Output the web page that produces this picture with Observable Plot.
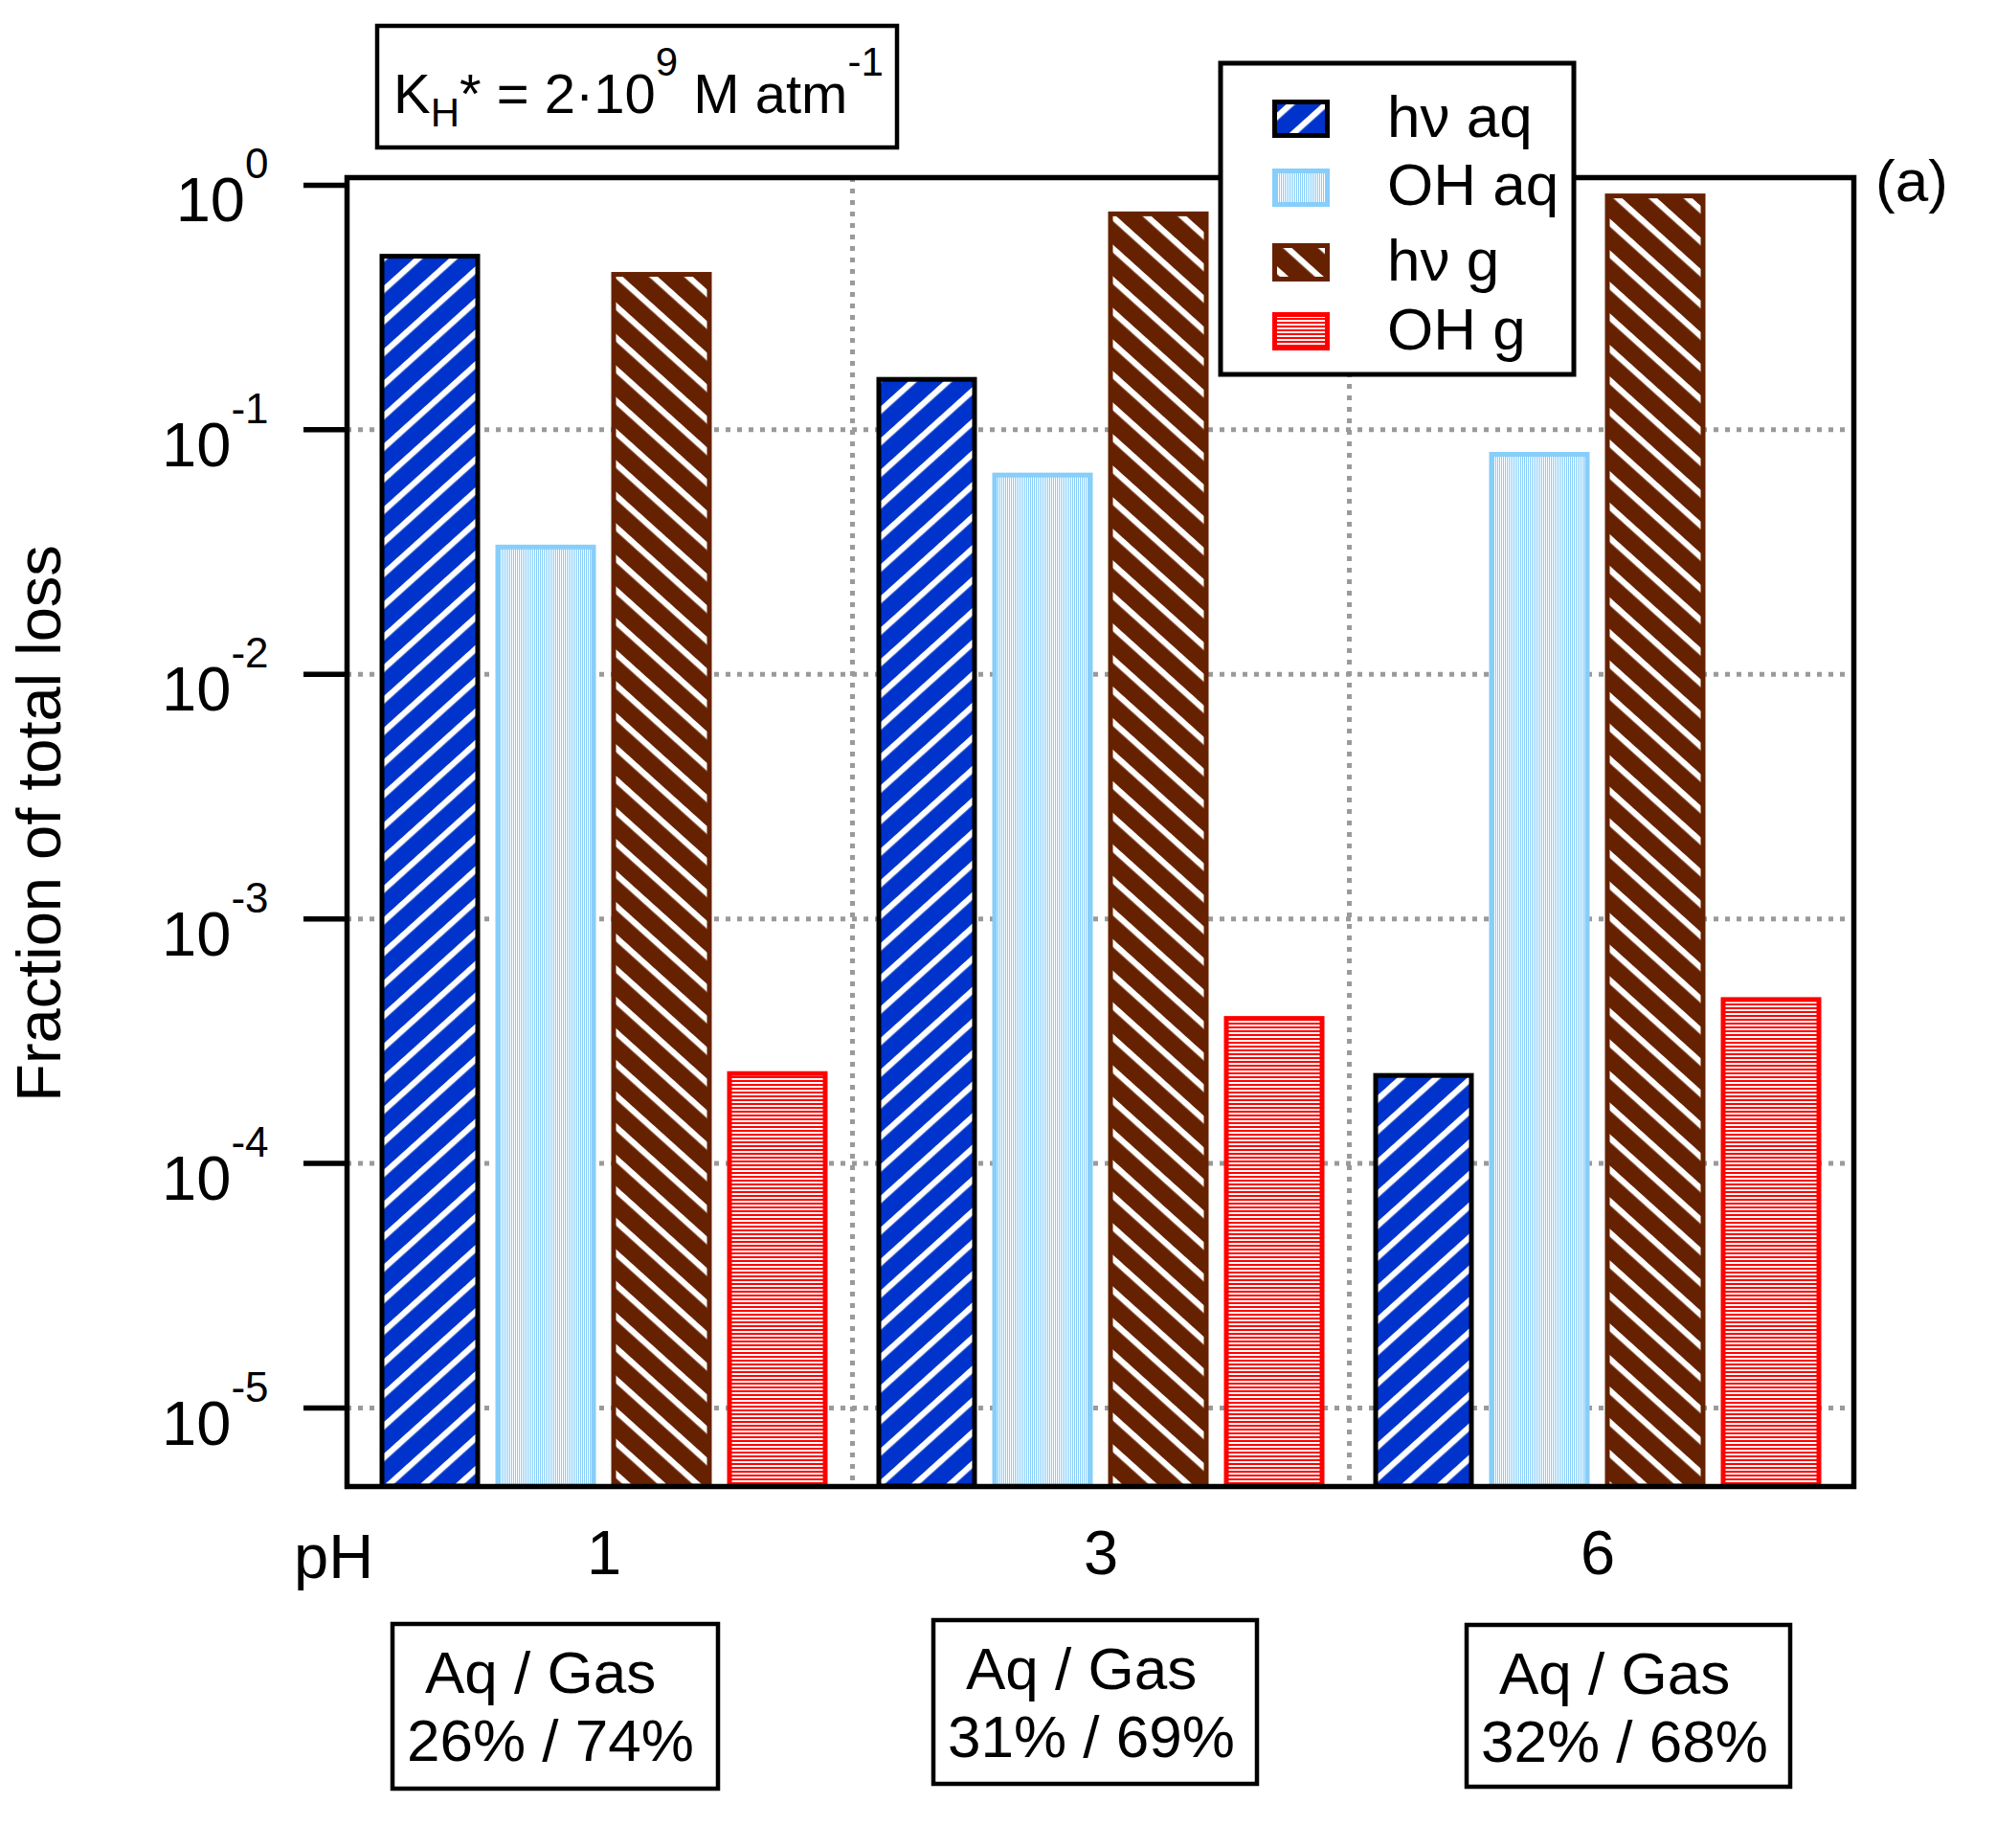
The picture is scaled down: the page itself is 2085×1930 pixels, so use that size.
<!DOCTYPE html>
<html><head><meta charset="utf-8">
<script src="https://cdn.jsdelivr.net/npm/d3@7"></script>
<script src="https://cdn.jsdelivr.net/npm/@observablehq/plot@0.6"></script>
<style>
html,body{margin:0;padding:0;background:#fff;}
#chart{position:relative;width:2085px;height:1930px;}
</style></head><body>
<svg width="0" height="0" style="position:absolute;left:0;top:0">
<defs>
<pattern id="patHvAq" patternUnits="userSpaceOnUse" width="12" height="24.5" patternTransform="rotate(-42)">
 <rect width="12" height="24.5" fill="#0033cc"/><rect width="12" height="6.2" fill="#ffffff"/>
</pattern>
<pattern id="patOhAq" patternUnits="userSpaceOnUse" width="2" height="10">
 <rect width="2" height="10" fill="#ffffff"/><rect width="1" height="10" fill="#87cefa"/>
</pattern>
<pattern id="patHvG" patternUnits="userSpaceOnUse" width="12" height="24.5" patternTransform="rotate(42)">
 <rect width="12" height="24.5" fill="#662200"/><rect width="12" height="6.2" fill="#ffffff"/>
</pattern>
<pattern id="patOhG" patternUnits="userSpaceOnUse" width="10" height="4">
 <rect width="10" height="4" fill="#ffffff"/><rect width="10" height="2" fill="#ff0000"/>
</pattern>
</defs>
</svg>
<div id="chart"></div>
<script>
// ---- data ----
const pH = ["1", "3", "6"];
const series = ["hν aq", "OH aq", "hν g", "OH g"];
const hvAq = [0.51, 0.16, 2.28e-4];
const ohAq = [0.033, 0.065, 0.079];
const hvG = [0.43, 0.76, 0.90];
const ohG = [2.32e-4, 3.9e-4, 4.66e-4];
const aqGasHeader = "Aq / Gas";
const aqGas = ["26% / 74%", "31% / 69%", "32% / 68%"];
const yTicks = [1, 0.1, 0.01, 1e-3, 1e-4, 1e-5];
const yGrid = [0.1, 0.01, 1e-3, 1e-4, 1e-5];
const separators = ["3", "6"];

// ---- styles ----
const fills = ["url(#patHvAq)", "url(#patOhAq)", "url(#patHvG)", "url(#patOhG)"];
const strokes = ["#000000", "#87cefa", "#662200", "#ff0000"];
const values = [hvAq, ohAq, hvG, ohG];
const rows = [];
pH.forEach((p, i) => series.forEach((s, j) => rows.push({pH: p, series: s, value: values[j][i]})));

const yMin = Math.pow(10, -5.321), yMax = Math.pow(10, 0.031);
const FONT = "'Liberation Sans', Arial, sans-serif";

const barMarks = series.map((s, j) => Plot.barY(rows.filter(d => d.series === s), {
  x: "pH", y1: () => yMin, y2: "value",
  fill: fills[j], stroke: strokes[j], strokeWidth: 5,
  insetLeft: 28 + 121 * j, insetRight: 391 - 121 * j
}));

const chart = Plot.plot({
  width: 2085, height: 1930,
  marginLeft: 362, marginRight: 149, marginTop: 185, marginBottom: 378,
  style: {fontFamily: FONT, background: "#fff", color: "#000"},
  x: {domain: pH, range: [370.5, 1927.5], padding: 0},
  y: {type: "log", domain: [yMin, yMax]},
  marks: [
    Plot.ruleY(yGrid, {stroke: "#9a9a9a", strokeWidth: 5, strokeDasharray: "5,7"}),
    Plot.ruleX(separators, {x: d => d, dx: -259.5, stroke: "#9a9a9a", strokeWidth: 5, strokeDasharray: "5,7"}),
    ...barMarks,
    Plot.frame({stroke: "#000", strokeWidth: 5.5}),
    Plot.axisY({ticks: yTicks, tickSize: 45, tickPadding: 37, strokeWidth: 5.5, fontSize: 65,
      tickFormat: d => String(Math.round(Math.log10(d))), label: null}),
    Plot.axisX({tickSize: 0, tickPadding: 45, fontSize: 65, label: null})
  ]
});
document.getElementById("chart").appendChild(chart);

const svg = d3.select(chart.tagName.toLowerCase() === "svg" ? chart : chart.querySelector("svg"));

// superscript tick labels
svg.selectAll('g[aria-label="y-axis tick label"] text').each(function() {
  const e = this.textContent;
  const t = d3.select(this);
  t.text(null).attr("y", 38);
  t.append("tspan").text("10");
  t.append("tspan").attr("dy", -45).attr("font-size", 44).text(e);
});

const g = svg.append("g").attr("font-family", FONT).attr("fill", "#000").attr("text-anchor", "start");

// K_H box
g.append("rect").attr("x", 394).attr("y", 27).attr("width", 543).attr("height", 127)
  .attr("fill", "#fff").attr("stroke", "#000").attr("stroke-width", 4.5);
const kt = g.append("text").attr("x", 411).attr("y", 118).attr("font-size", 58);
kt.append("tspan").text("K");
kt.append("tspan").attr("font-size", 42).attr("dy", 14).text("H");
kt.append("tspan").attr("dy", -14).text("* = 2·10");
kt.append("tspan").attr("font-size", 42).attr("dy", -39).text("9");
kt.append("tspan").attr("dy", 39).text(" M atm");
kt.append("tspan").attr("font-size", 42).attr("dy", -39).text("-1");

// legend
g.append("rect").attr("x", 1275).attr("y", 66).attr("width", 369).attr("height", 325)
  .attr("fill", "#fff").attr("stroke", "#000").attr("stroke-width", 5);
const swY = [106.5, 178.5, 256.5, 328.5];
const txY = [143, 214, 293, 365];
series.forEach((s, j) => {
  g.append("rect").attr("x", 1331.5).attr("y", swY[j]).attr("width", 55).attr("height", 35)
    .attr("fill", fills[j]).attr("stroke", strokes[j]).attr("stroke-width", 5);
  g.append("text").attr("x", 1449).attr("y", txY[j]).attr("font-size", 62).text(s);
});

// panel label
g.append("text").attr("x", 1959).attr("y", 210).attr("font-size", 62).text("(a)");
// pH label
g.append("text").attr("x", 307).attr("y", 1648).attr("font-size", 65).text("pH");
// y label
g.append("text").attr("transform", "translate(63,860) rotate(-90)").attr("text-anchor", "middle")
  .attr("font-size", 65).text("Fraction of total loss");

// Aq/Gas boxes
const boxes = [
  {x: 410, y: 1696, w: 340, h: 172},
  {x: 975, y: 1692, w: 338, h: 171},
  {x: 1532, y: 1697, w: 338, h: 169}
];
aqGas.forEach((txt, i) => {
  const b = boxes[i];
  g.append("rect").attr("x", b.x).attr("y", b.y).attr("width", b.w).attr("height", b.h)
    .attr("fill", "#fff").attr("stroke", "#000").attr("stroke-width", 4.5);
  g.append("text").attr("x", b.x + 34).attr("y", b.y + 72).attr("font-size", 62).text(aqGasHeader);
  g.append("text").attr("x", b.x + 15).attr("y", b.y + 143).attr("font-size", 62).text(txt);
});
</script>
</body></html>
